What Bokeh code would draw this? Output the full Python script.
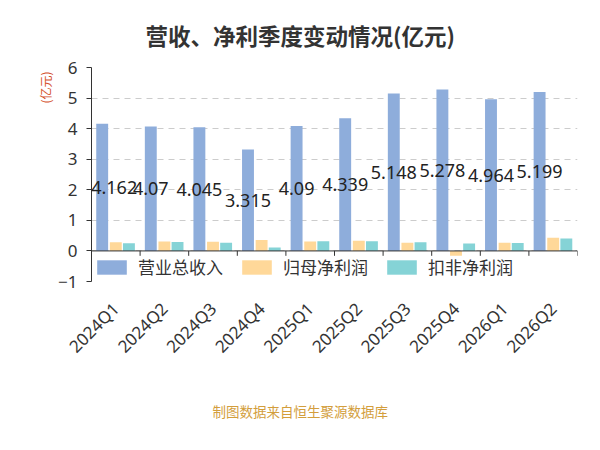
import math
from bokeh.plotting import figure
from bokeh.models import (ColumnDataSource, Range1d, Span, Legend,
                          LegendItem, LabelSet, Title, FixedTicker)
from bokeh.transform import dodge
from bokeh.core.properties import value
from bokeh.embed import file_html
from bokeh.resources import INLINE

# ---- data ----
quarters = ["2024Q1", "2024Q2", "2024Q3", "2024Q4", "2025Q1",
            "2025Q2", "2025Q3", "2025Q4", "2026Q1", "2026Q2"]
revenue = [4.162, 4.07, 4.045, 3.315, 4.09, 4.339, 5.148, 5.278, 4.964, 5.199]
net_profit = [0.28, 0.31, 0.30, 0.355, 0.31, 0.33, 0.27, -0.16, 0.27, 0.43]
net_profit_deducted = [0.25, 0.29, 0.27, 0.11, 0.32, 0.32, 0.28, 0.24, 0.26, 0.41]
series_names = ["营业总收入", "归母净利润", "扣非净利润"]
y_ticks = [-1, 0, 1, 2, 3, 4, 5, 6]
title_text = "营收、净利季度变动情况(亿元)"
unit_text = "(亿元)"
source_text = "制图数据来自恒生聚源数据库"

colors = ["#8eaddb", "#ffd899", "#85d3d6"]
offsets = [-0.28, 0.0, 0.27]
CJK = "Noto Sans CJK SC"
NUM = "Noto Sans"

n = len(quarters)
idx = list(range(n))
# first label would run past the axis and be clipped: nudge it right a little
label_dx = [12 if i == 0 else 0 for i in idx]

src = ColumnDataSource(dict(
    idx=idx,
    q=quarters,
    rev=revenue,
    np=net_profit,
    npd=net_profit_deducted,
    mid=[v / 2 for v in revenue],
    lbl=[str(v) for v in revenue],
    dx=label_dx,
))

p = figure(x_range=Range1d(-0.5, n - 0.5), y_range=Range1d(y_ticks[0], y_ticks[-1]),
           width=600, height=450, frame_width=486, frame_height=214,
           output_backend="svg", toolbar_location=None,
           min_border_left=91, min_border_right=23, min_border_top=67,
           min_border_bottom=169)
p.outline_line_color = None

# title
p.title.text = title_text
p.title.text_font = CJK
p.title.text_font_size = "22.5px"
p.title.text_font_style = "bold"
p.title.text_color = "#333333"
p.title.align = "left"
p.title.offset = 54
p.title.standoff = 33

xa = p.xaxis[0]
ya = p.yaxis[0]

# grid
p.xgrid.grid_line_color = None
p.ygrid.grid_line_color = "#cccccc"
p.ygrid.grid_line_dash = "6 5"

# y axis
ya.ticker = FixedTicker(ticks=y_ticks)
ya.axis_line_color = "#333333"
ya.major_tick_line_color = "#333333"
ya.major_tick_out = 5
ya.major_tick_in = 0
ya.minor_tick_line_color = None
ya.major_label_text_font = NUM
ya.major_label_text_font_size = "17px"
ya.major_label_text_color = "#333333"
ya.major_label_standoff = 9

# x axis (quarter names at category centres)
xa.ticker = FixedTicker(ticks=idx)
xa.major_label_overrides = {i: q for i, q in zip(idx, quarters)}
xa.axis_line_color = None
xa.major_tick_line_color = None
xa.minor_tick_line_color = None
xa.major_label_orientation = math.pi / 4
xa.major_label_text_font = NUM
xa.major_label_text_font_size = "17px"
xa.major_label_text_color = "#333333"
xa.major_label_standoff = 18

# bars
renderers = []
for col, off, c in zip(["rev", "np", "npd"], offsets, colors):
    r = p.vbar(x=dodge("idx", off), top=col, bottom=0, width=0.245,
               source=src, fill_color=c, line_color=None)
    renderers.append(r)

# zero axis line with ticks between categories
p.add_layout(Span(location=0, dimension="width", line_color="#333333", line_width=1))
bounds = [i + 0.5 for i in idx]
p.segment(x0=bounds, y0=[0] * n, x1=bounds, y1=[-0.16] * n,
          line_color="#333333", line_width=1)

# value labels (middle of revenue bars)
p.add_layout(LabelSet(x=dodge("idx", offsets[0]), y="mid", text="lbl",
                      x_offset="dx", source=src, text_align="center",
                      text_baseline="middle", text_font=value(NUM),
                      text_font_size="18px", text_color="#222222"))

# left: unit label outside the y axis
p.add_layout(Title(text=unit_text, align="right", offset=4, standoff=4,
                   text_font=CJK, text_font_size="12px", text_font_style="normal",
                   text_color="#d4502a"), "left")

# legend in the empty strip below the zero line
legend = Legend(items=[LegendItem(label=nm, renderers=[r]) for nm, r in zip(series_names, renderers)],
                orientation="horizontal", location="bottom_left",
                glyph_width=37, glyph_height=18, label_standoff=8, spacing=15,
                padding=0, margin=2, border_line_color=None, background_fill_alpha=0,
                label_text_font=CJK, label_text_font_size="17px",
                label_text_color="#333333")
p.add_layout(legend, "center")

# footer
p.add_layout(Title(text=source_text, align="left", offset=121, text_font=CJK,
                   text_font_size="13.5px", text_font_style="normal",
                   text_color="#d39e3c", standoff=60), "below")

open("out.html", "w").write(file_html(p, INLINE))
